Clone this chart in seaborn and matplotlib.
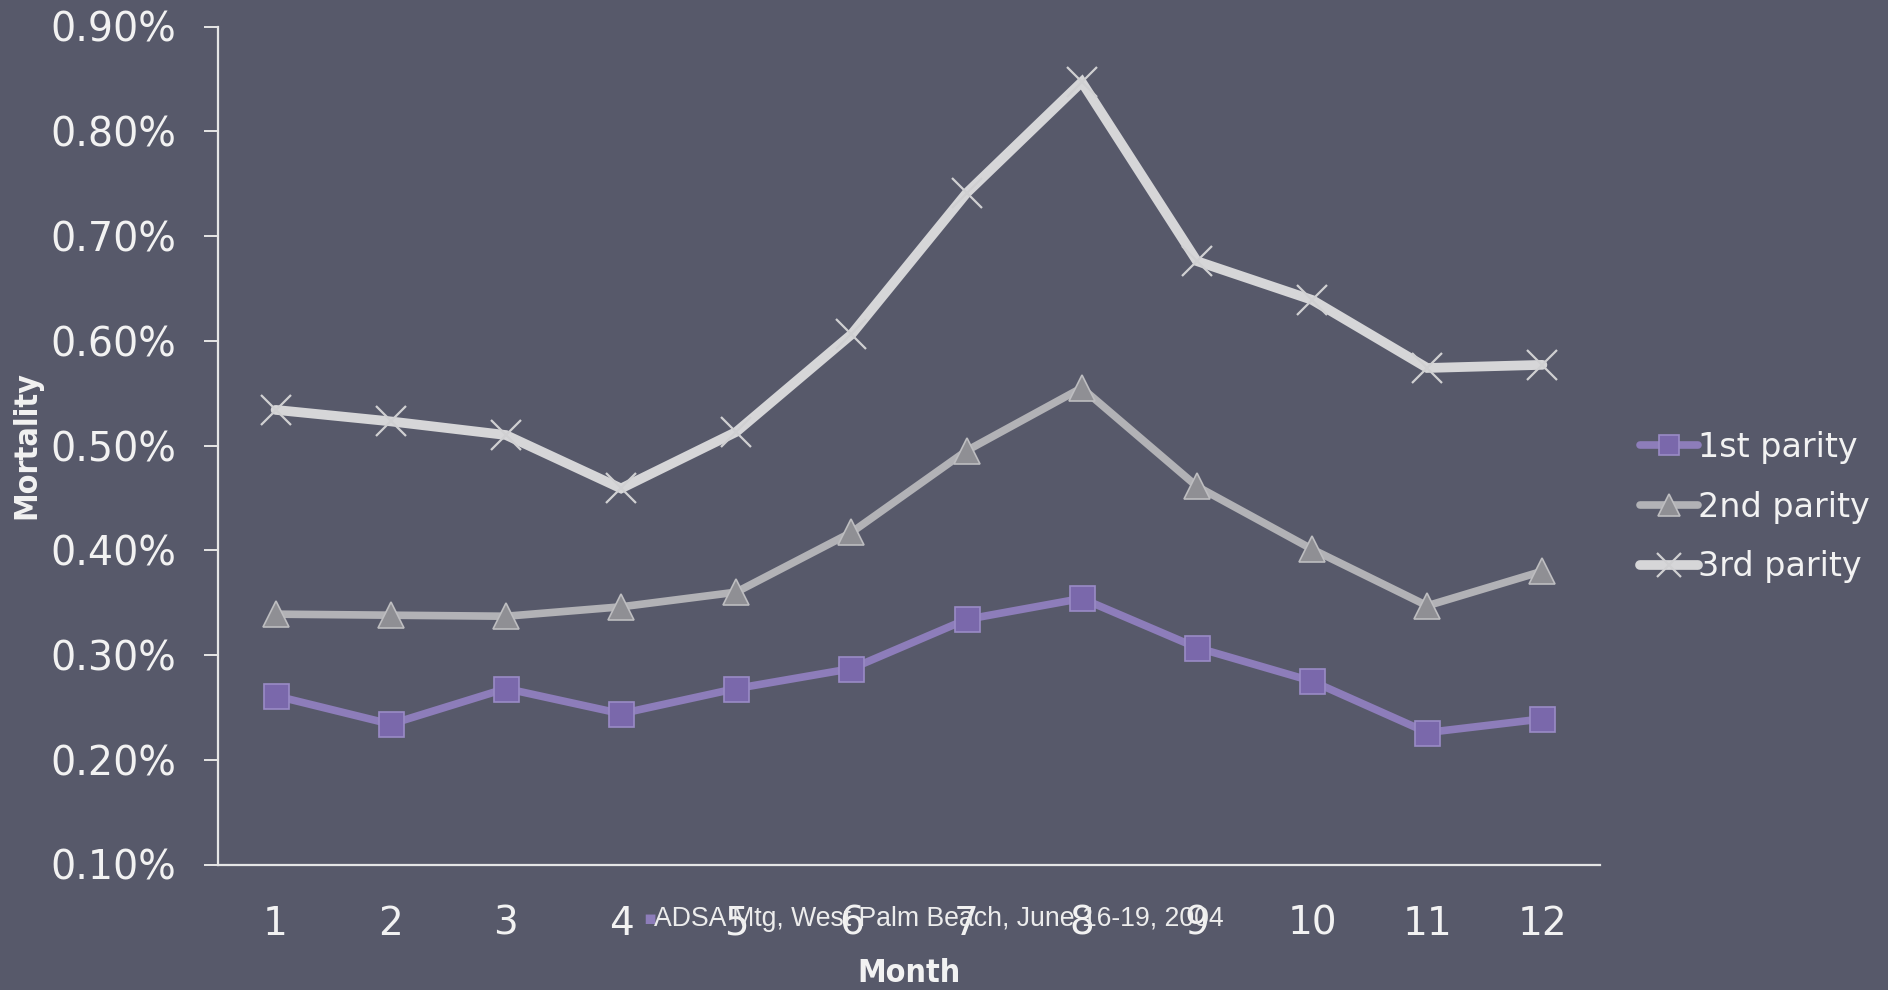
import matplotlib
matplotlib.use("Agg")
import matplotlib.pyplot as plt
from matplotlib.ticker import FuncFormatter, FixedLocator
import seaborn as sns
import pandas as pd

# Monthly mortality (%) by parity
months = [1, 2, 3, 4, 5, 6, 7, 8, 9, 10, 11, 12]
parity_1 = [0.261, 0.234, 0.268, 0.244, 0.268, 0.287, 0.334, 0.354, 0.307, 0.275, 0.226, 0.239]
parity_2 = [0.339, 0.338, 0.337, 0.346, 0.360, 0.417, 0.495, 0.555, 0.461, 0.401, 0.347, 0.380]
parity_3 = [0.534, 0.523, 0.510, 0.459, 0.513, 0.606, 0.741, 0.847, 0.676, 0.639, 0.574, 0.577]
series_names = ["1st parity", "2nd parity", "3rd parity"]
y_ticks = [0.1, 0.2, 0.3, 0.4, 0.5, 0.6, 0.7, 0.8, 0.9]

BG = "#57596a"
FG = "#f2f2f2"

sns.set_theme(style="white")
plt.rcParams["font.family"] = ["DejaVu Sans"]

fig = plt.figure(figsize=(18.88, 9.90), dpi=100, facecolor=BG)
ax = fig.add_axes([218 / 1888, 1 - 864.5 / 990, (1600 - 218) / 1888, (864.5 - 26.5) / 990])
ax.set_facecolor(BG)

df = pd.DataFrame({"month": months, "p1": parity_1, "p2": parity_2, "p3": parity_3})

styles = {
    "p3": dict(color="#d6d6d8", lw=7, marker="x", ms=22, mew=1.6, mec="#d0d0d2", mfc="#d0d0d2"),
    "p2": dict(color="#b2b2b6", lw=5.5, marker="^", ms=19, mew=1.2, mec="#bdbdc0", mfc="#8f8f94"),
    "p1": dict(color="#8d7dba", lw=5.5, marker="s", ms=18, mew=1.2, mec="#9a8bc6", mfc="#7a68ab"),
}

handles = {}
for key in ["p3", "p2", "p1"]:
    st = styles[key]
    sns.lineplot(data=df, x="month", y=key, ax=ax, color=st["color"], lw=st["lw"],
                 marker=st["marker"], markersize=st["ms"], markeredgewidth=st["mew"],
                 markeredgecolor=st["mec"], markerfacecolor=st["mfc"],
                 solid_joinstyle="miter", solid_capstyle="round")
    handles[key] = ax.lines[-1]

ax.set_xlim(0.5, 12.5)
ax.set_ylim(0.1, 0.9)
ax.xaxis.set_major_locator(FixedLocator(months))
ax.yaxis.set_major_locator(FixedLocator(y_ticks))
ax.yaxis.set_major_formatter(FuncFormatter(lambda v, p: f"{v:.2f}%"))

for side in ["top", "right"]:
    ax.spines[side].set_visible(False)
for side in ["left", "bottom"]:
    ax.spines[side].set_color("#e6e6e6")
    ax.spines[side].set_linewidth(1.6)

ax.tick_params(axis="y", which="major", direction="out", length=10, width=1.4,
               color="#e6e6e6", labelcolor=FG, labelsize=28.5, pad=20, left=True)
ax.tick_params(axis="x", which="major", length=0, labelcolor=FG, labelsize=28, pad=29)
ax.set_xlabel("")
ax.set_ylabel("")

# Axis titles
fig.text(909 / 1888, 1 - 973 / 990, "Month", ha="center", va="center",
         color=FG, fontsize=23, fontweight="bold", fontstretch="condensed")
fig.text(27 / 1888, 1 - 445 / 990, "Mortality", ha="center", va="center", rotation=90,
         color=FG, fontsize=23, fontweight="bold", fontstretch="condensed")

# Legend
leg = ax.legend([handles["p1"], handles["p2"], handles["p3"]], series_names,
                loc="center left", bbox_to_anchor=(1640 / 1888, 1 - 507 / 990),
                bbox_transform=fig.transFigure, frameon=False, fontsize=24,
                handlelength=1.75, handletextpad=0.0, labelspacing=0.8,
                borderpad=0, borderaxespad=0,
                labelcolor=FG, markerscale=0.8)

# Footer
fig.text(643 / 1888, 1 - 919 / 990, "▪", ha="left", va="center", color="#8d7dba",
         fontsize=14)
fig.text(654 / 1888, 1 - 919 / 990, "ADSA Mtg, West Palm Beach, June 16-19, 2004",
         ha="left", va="center", color="#ececec", fontsize=19.2,
         family=["Liberation Sans", "DejaVu Sans"])

fig.savefig("out.png", dpi=100, facecolor=BG)
